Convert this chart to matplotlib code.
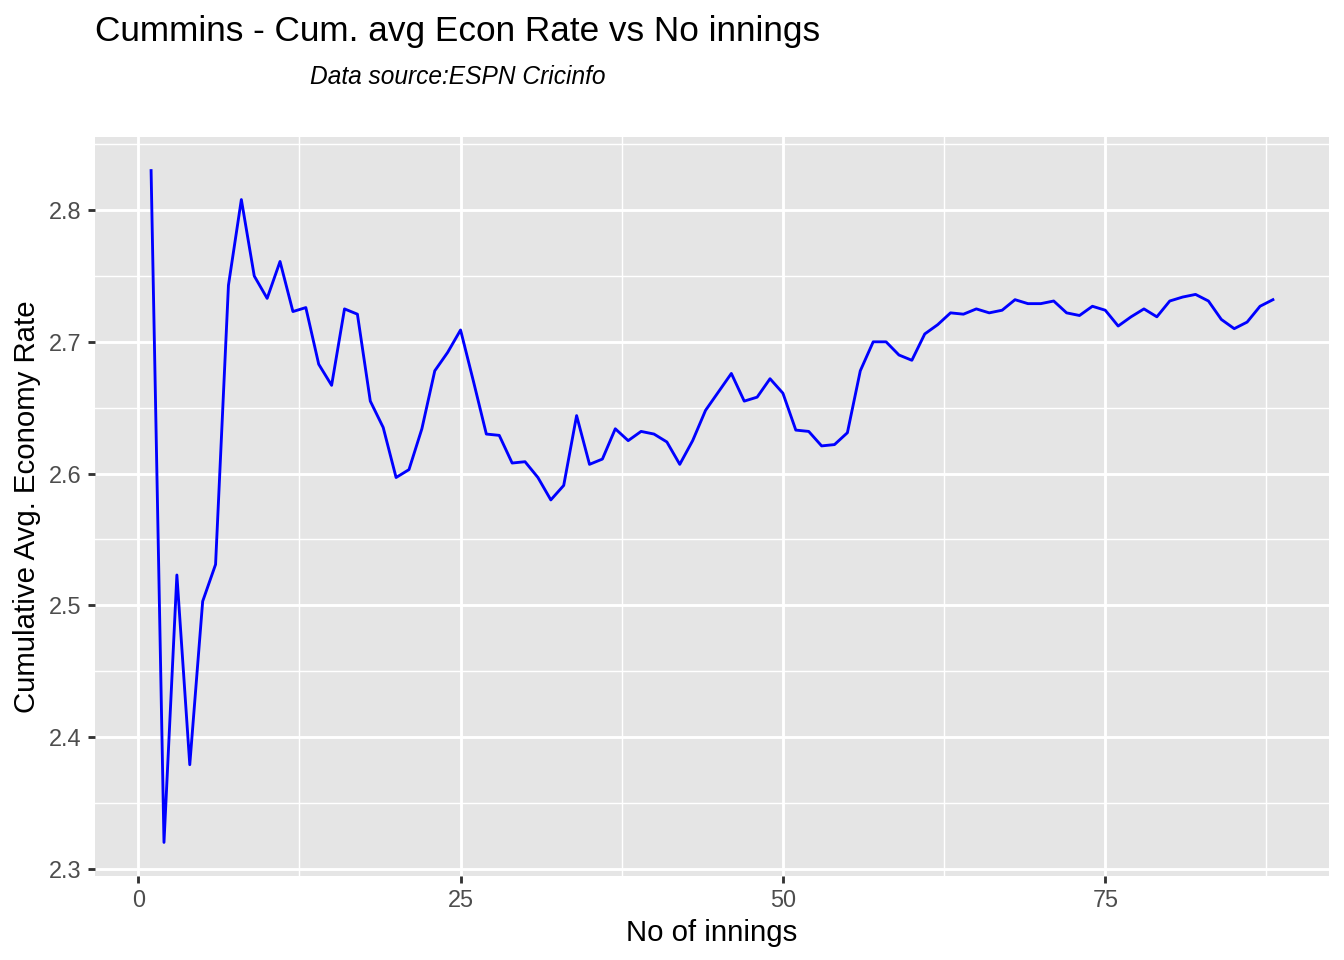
import numpy as np
import matplotlib
matplotlib.use('Agg')
import matplotlib.pyplot as plt
from matplotlib.ticker import MultipleLocator

# cumulative average economy rate per innings
innings = np.arange(1, 89)
econ_rate = [
    2.830, 2.320, 2.523, 2.379, 2.503, 2.531, 2.743, 2.808, 2.750, 2.733,
    2.761, 2.723, 2.726, 2.683, 2.667, 2.725, 2.721, 2.655, 2.635, 2.597,
    2.603, 2.634, 2.678, 2.692, 2.709, 2.670, 2.630, 2.629, 2.608, 2.609,
    2.597, 2.580, 2.591, 2.644, 2.607, 2.611, 2.634, 2.625, 2.632, 2.630,
    2.624, 2.607, 2.625, 2.648, 2.662, 2.676, 2.655, 2.658, 2.672, 2.661,
    2.633, 2.632, 2.621, 2.622, 2.631, 2.678, 2.700, 2.700, 2.690, 2.686,
    2.706, 2.713, 2.722, 2.721, 2.725, 2.722, 2.724, 2.732, 2.729, 2.729,
    2.731, 2.722, 2.720, 2.727, 2.724, 2.712, 2.719, 2.725, 2.719, 2.731,
    2.734, 2.736, 2.731, 2.717, 2.710, 2.715, 2.727, 2.732,
]

title = "Cummins - Cum. avg Econ Rate vs No innings"
subtitle = "Data source:ESPN Cricinfo"
x_label = "No of innings"
y_label = "Cumulative Avg. Economy Rate"

plt.rcParams['font.family'] = ['Liberation Sans', 'DejaVu Sans']

W, H = 1344, 960
fig = plt.figure(figsize=(7, 5), dpi=192)
ax = fig.add_axes([95 / W, 1 - 876 / H, (1329 - 95) / W, (876 - 137) / H])

ax.set_facecolor('#E5E5E5')
for s in ax.spines.values():
    s.set_visible(False)

ax.plot(innings, econ_rate, color='blue', linewidth=1.07, zorder=3)

# ggplot-like expansion of 5% on each side
xr = innings.max() - innings.min()
ax.set_xlim(innings.min() - 0.05 * xr, innings.max() + 0.05 * xr)
yr = max(econ_rate) - min(econ_rate)
ax.set_ylim(min(econ_rate) - 0.05 * yr, max(econ_rate) + 0.05 * yr)

ax.xaxis.set_major_locator(MultipleLocator(25))
ax.xaxis.set_minor_locator(MultipleLocator(12.5))
ax.yaxis.set_major_locator(MultipleLocator(0.1))
ax.yaxis.set_minor_locator(MultipleLocator(0.05))
ax.yaxis.set_major_formatter(matplotlib.ticker.FormatStrFormatter('%.1f'))

ax.grid(which='major', color='white', linewidth=1.07)
ax.grid(which='minor', color='white', linewidth=0.53)
ax.set_axisbelow(True)

ax.tick_params(which='major', length=2.75, width=1.07, color='#333333',
               labelcolor='#4D4D4D', labelsize=8.8, pad=2.2)
ax.tick_params(which='minor', length=0)

ax.set_xlabel(x_label, fontsize=11, labelpad=2.5)
ax.set_ylabel(y_label, fontsize=11, labelpad=3)

fig.text(95 / W, 1 - 41 / H, title, fontsize=13.2, ha='left', va='baseline')
fig.text(458 / W, 1 - 84 / H, subtitle, fontsize=9.2, style='italic',
         ha='center', va='baseline')

fig.savefig('out.png', dpi=192)
